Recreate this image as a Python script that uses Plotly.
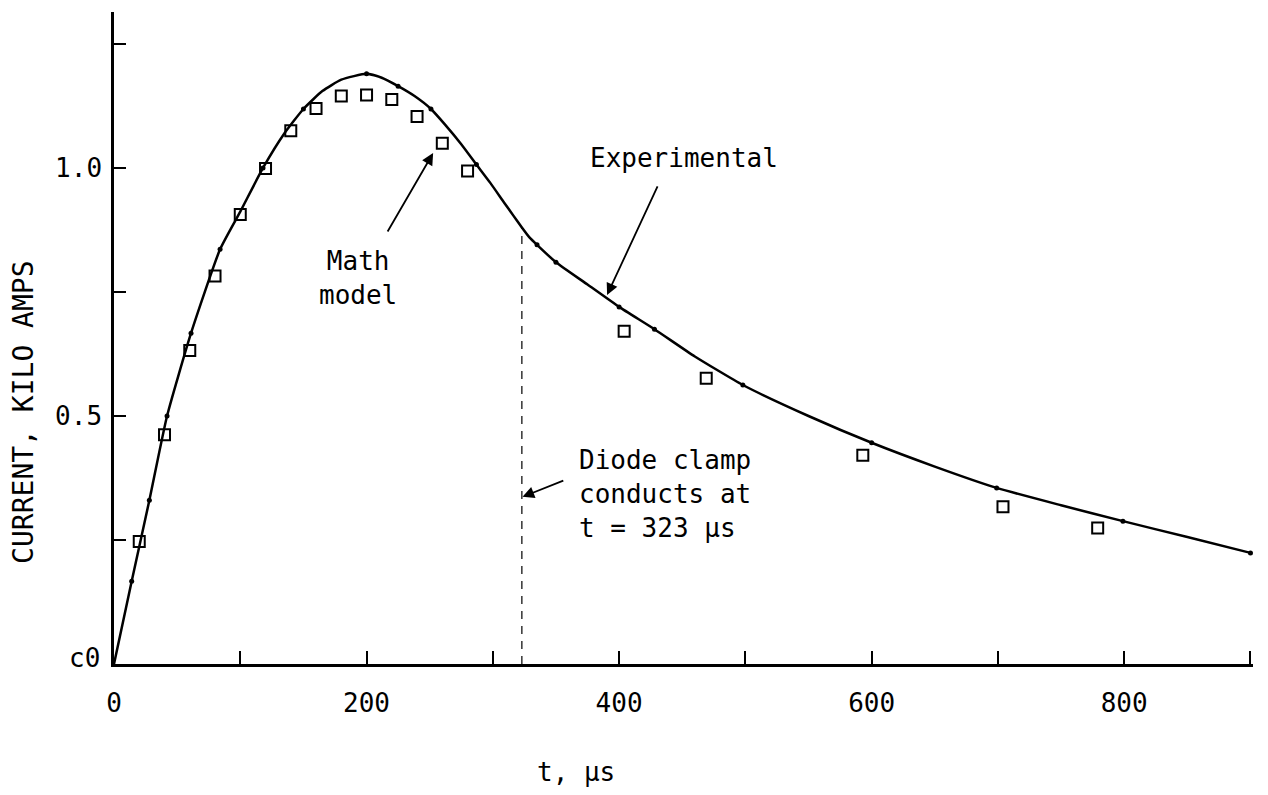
import plotly.graph_objects as go

# ---------------- data ----------------
# experimental curve
curve_t = [0, 14, 28, 42, 61, 84, 100, 118, 135, 150, 165, 180, 200, 212, 225, 238,
           251, 262, 275, 287, 298, 309, 316, 323, 329, 335, 350, 375, 400, 428, 460,
           498, 550, 600, 650, 699, 750, 799, 850, 900]
curve_i = [0.0, 0.167, 0.33, 0.50, 0.667, 0.836, 0.912, 1.0, 1.07, 1.119, 1.155,
           1.178, 1.19, 1.182, 1.165, 1.145, 1.119, 1.088, 1.048, 1.007, 0.97, 0.93,
           0.905, 0.88, 0.86, 0.845, 0.81, 0.765, 0.72, 0.675, 0.62, 0.5625, 0.50,
           0.446, 0.398, 0.355, 0.32, 0.288, 0.256, 0.224]

# experimental data dots on the curve
dot_t = [14, 28, 42, 61, 84, 118, 150, 200, 225, 251, 287, 335, 350, 400, 428, 498,
         600, 699, 799, 900]
dot_i = [0.167, 0.33, 0.50, 0.667, 0.836, 1.0, 1.119, 1.19, 1.165, 1.119, 1.007,
         0.845, 0.81, 0.72, 0.675, 0.5625, 0.446, 0.355, 0.288, 0.224]

# math model (open squares)
model_t = [20, 40, 60, 80, 100, 120, 140, 160, 180, 200, 220, 240, 260, 280,
           404, 469, 593, 704, 779, 905]
model_i = [0.247, 0.462, 0.632, 0.782, 0.906, 0.999, 1.075, 1.120, 1.145, 1.147,
           1.138, 1.104, 1.050, 0.994, 0.671, 0.576, 0.421, 0.317, 0.274, 0.213]

# diode clamp marker line
clamp_t = [323, 323]
clamp_i = [0.0, 0.88]

x_tickvals = [0, 100, 200, 300, 400, 500, 600, 700, 800, 900]
x_ticktext = ["0", "", "200", "", "400", "", "600", "", "800", ""]
y_tickvals = [0, 0.25, 0.5, 0.75, 1.0, 1.25]
y_ticktext = ["", "", "0.5", "", "1.0", ""]

FONT = "DejaVu Sans Mono"

fig = go.Figure()

fig.add_trace(go.Scatter(
    x=clamp_t, y=clamp_i, mode="lines",
    line=dict(color="black", width=1.2, dash="8px,7px"),
    hoverinfo="skip", showlegend=False))

fig.add_trace(go.Scatter(
    x=curve_t, y=curve_i, mode="lines",
    line=dict(color="black", width=2.5, shape="spline", smoothing=0.5),
    name="Experimental", showlegend=False, cliponaxis=False))

fig.add_trace(go.Scatter(
    x=dot_t, y=dot_i, mode="markers",
    marker=dict(color="black", size=5, symbol="circle"),
    showlegend=False, cliponaxis=False))

fig.add_trace(go.Scatter(
    x=model_t, y=model_i, mode="markers",
    marker=dict(symbol="square-open", size=11, color="black", line=dict(width=2)),
    name="Math model", showlegend=False, cliponaxis=False))

annotations = [
    dict(text="Experimental", x=375, y=1.02, xref="x", yref="y",
         xanchor="left", yanchor="middle", showarrow=False),
    dict(text="Math<br>model", x=193, y=0.779, xref="x", yref="y",
         xanchor="center", yanchor="middle", align="center", showarrow=False),
    dict(text="Diode clamp<br>conducts at<br>t = 323 µs", x=367, y=0.343,
         xref="x", yref="y", xanchor="left", yanchor="middle", align="left",
         showarrow=False),
    # arrows
    dict(text="", x=390.5, y=0.744, ax=431, ay=0.966, xref="x", yref="y",
         axref="x", ayref="y", showarrow=True, arrowhead=2, arrowsize=1.3,
         arrowwidth=1.8, arrowcolor="black"),
    dict(text="", x=252.7, y=1.03, ax=216, ay=0.869, xref="x", yref="y",
         axref="x", ayref="y", showarrow=True, arrowhead=2, arrowsize=1.3,
         arrowwidth=1.8, arrowcolor="black"),
    dict(text="", x=323.5, y=0.337, ax=357, ay=0.371, xref="x", yref="y",
         axref="x", ayref="y", showarrow=True, arrowhead=2, arrowsize=1.3,
         arrowwidth=1.8, arrowcolor="black"),
    # axis titles
    dict(text="CURRENT, KILO AMPS", x=-0.080, y=0.3865, xref="paper", yref="paper",
         textangle=-90, xanchor="center", yanchor="middle", showarrow=False,
         font=dict(family=FONT, size=28, color="black")),
    dict(text="t, µs", x=0.406, y=-0.166, xref="paper", yref="paper",
         xanchor="center", yanchor="middle", showarrow=False,
         font=dict(family=FONT, size=26, color="black")),
    # odd zero label on the y axis
    dict(text="c0", x=-0.0105, y=0.009, xref="paper", yref="paper",
         xanchor="right", yanchor="middle", showarrow=False,
         font=dict(family=FONT, size=26, color="black")),
]

fig.update_layout(
    width=1252, height=779,
    margin=dict(l=106, r=7, t=4, b=123, autoexpand=False),
    paper_bgcolor="white", plot_bgcolor="white",
    font=dict(family=FONT, size=26, color="black"),
    showlegend=False,
    annotations=annotations,
    xaxis=dict(range=[0, 902], tickvals=x_tickvals, ticktext=x_ticktext,
               ticks="inside", ticklen=13, tickwidth=2, tickcolor="black",
               showline=True, linecolor="black", linewidth=2.5,
               showgrid=False, zeroline=False, ticklabelstandoff=14,
               tickfont=dict(family=FONT, size=26, color="black")),
    yaxis=dict(range=[0, 1.3145], tickvals=y_tickvals, ticktext=y_ticktext,
               ticks="inside", ticklen=12, tickwidth=2, tickcolor="black",
               showline=True, linecolor="black", linewidth=2.5,
               showgrid=False, zeroline=False, ticklabelstandoff=4,
               tickfont=dict(family=FONT, size=26, color="black")),
)

fig.write_html("out.html")
